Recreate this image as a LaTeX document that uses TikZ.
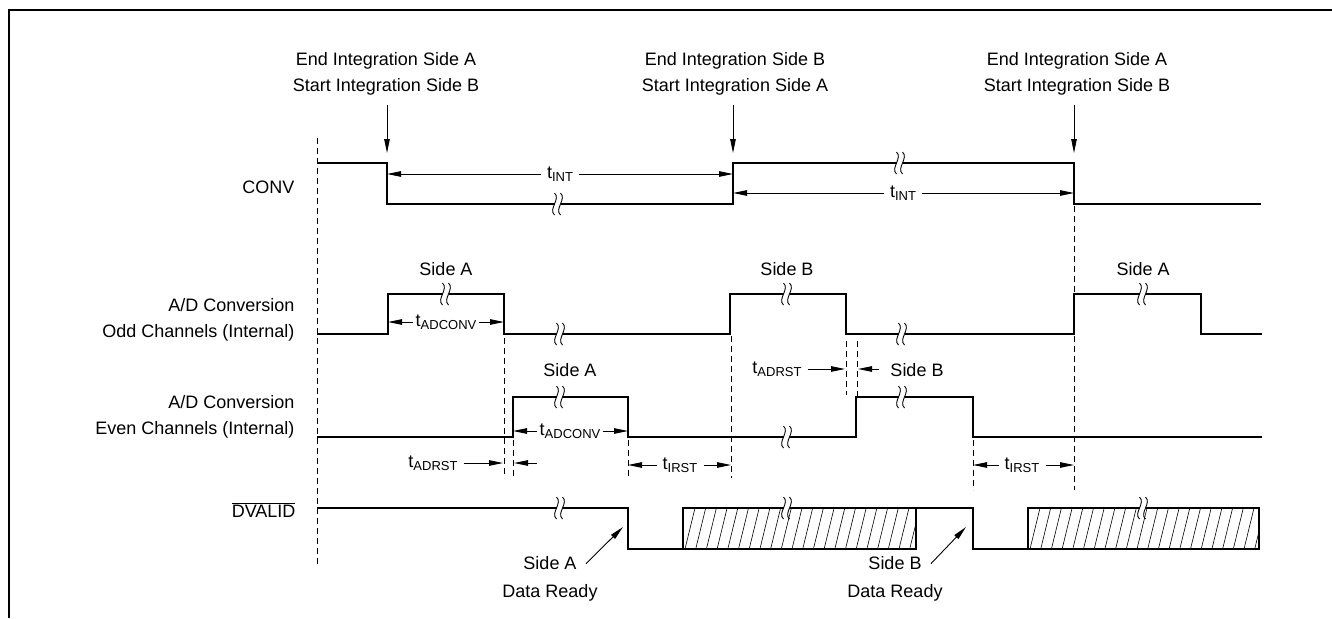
\documentclass[tikz,border=0pt]{standalone}
\usepackage{fontspec}
\setmainfont{Liberation Sans}
\usetikzlibrary{arrows.meta}
\newcommand{\tsb}[1]{t\raisebox{-0.35ex}{\fontsize{13}{13}\selectfont #1}}
\tikzset{
  sig/.style={line width=2.2pt},
  dim/.style={line width=0.9pt,-{Triangle[length=14pt,width=5.5pt]}},
  guide/.style={line width=0.8pt,dash pattern=on 6pt off 4pt},
  tlab/.style={inner ysep=0pt,inner xsep=#1},
  tlab/.default=6pt,
  brk/.pic={
    \fill[white] (-3.5,-3.5) rectangle (2.5,3.5);
    \draw[line width=0.9pt] (-3.5,-11) .. controls (3,-5) and (-10,5) .. (-3.5,11)
      (2.5,-11) .. controls (9,-5) and (-4,5) .. (2.5,11);}
}
\begin{document}
\begin{tikzpicture}[x=1pt,y=-1pt,font=\fontsize{18}{26}\selectfont]
\useasboundingbox (0,0) rectangle (1332,618);
\draw[line width=2pt] (9,618) -- (9,10) -- (1332,10);
\draw[guide] (317,138) -- (317,567);
\foreach \x/\a/\b in {504/338/478,513/440/478,628/440/478,731/336/478,846/341/395,857/341/397,973/440/490,1074/206/490}
\draw[guide] (\x,\a) -- (\x,\b);
\node[anchor=base east] (conv) at (298,193) {CONV};
\node[anchor=base east,align=right] (odd) at (298,337) {A/D Conversion\\Odd Channels (Internal)};
\node[anchor=base east,align=right] (even) at (298,434) {A/D Conversion\\Even Channels (Internal)};
\node[anchor=base east] (dval) at (299,517) {$\overline{\mbox{DVALID}}$};
\draw[sig] (317,163) -| (387,204) -| (733,163) -| (1074,204) -- (1261,204);
\draw[sig] (317,334) -| (388,294) -| (504,334) -| (730,294) -| (846,334) -| (1074,294) -| (1201,334) -- (1262,334);
\draw[sig] (317,437) -| (513,397) -| (628,437) -| (856,397) -| (973,437) -- (1262,437);
\draw[sig] (317,508) -| (628,549) -- (683,549);
\draw[sig] (916,508) -| (973,549) -- (1028,549);
\foreach \a/\b in {683/916,1028/1259}{
\begin{scope}
\clip (\a,508) rectangle (\b,549);
\foreach \i in {0,...,23}
\draw[line width=0.6pt] ({\a+2+\i*10.7},549) -- ++(10,-41);
\end{scope}
\draw[sig] (\a,508) rectangle (\b,549);}
\foreach \x/\y in {558/204,900/163,446/294,560/334,787/294,902/334,1143/294,560/397,787/437,902/397,560/508,787/508,1143/508}
\pic at (\x,\y) {brk};
\node[align=center,anchor=base] (top1) at (386,92) {End Integration Side A\\Start Integration Side B};
\node[align=center,anchor=base] (top2) at (735,92) {End Integration Side B\\Start Integration Side A};
\node[align=center,anchor=base] (top3) at (1077,92) {End Integration Side A\\Start Integration Side B};
\foreach \x in {387,733,1074}
\draw[dim] (\x,105) -- (\x,153);
\node[tlab] (ti1) at (560,174) {\tsb{INT}};
\draw[dim] (ti1) -- (387,174);
\draw[dim] (ti1) -- (733,174);
\node[tlab] (ti2) at (903,193) {\tsb{INT}};
\draw[dim] (ti2) -- (733,193);
\draw[dim] (ti2) -- (1074,193);
\node[anchor=base] (oa1) at (446,275) {Side A};
\node[anchor=base] (ob) at (787,275) {Side B};
\node[anchor=base] (oa2) at (1143,275) {Side A};
\node[anchor=base] (ea) at (570,376) {Side A};
\node[anchor=base] (eb) at (917,376) {Side B};
\node[tlab=2pt] (tc1) at (446,322) {\tsb{ADCONV}};
\draw[dim] (tc1) -- (388,322);
\draw[dim] (tc1) -- (504,322);
\node[tlab=2pt] (tc2) at (570,431) {\tsb{ADCONV}};
\draw[dim] (tc2) -- (513,431);
\draw[dim] (tc2) -- (628,431);
\node[tlab] (tr1) at (433,463) {\tsb{ADRST}};
\draw[dim] (tr1) -- (503,463);
\draw[dim] (537,463) -- (514,463);
\node[tlab] (tr2) at (777,369) {\tsb{ADRST}};
\draw[dim] (tr2) -- (845,369);
\draw[dim] (879,369) -- (858,369);
\node[tlab] (ts1) at (680,465) {\tsb{IRST}};
\draw[dim] (ts1) -- (628,465);
\draw[dim] (ts1) -- (731,465);
\node[tlab] (ts2) at (1022,465) {\tsb{IRST}};
\draw[dim] (ts2) -- (973,465);
\draw[dim] (ts2) -- (1074,465);
\node[anchor=base] (sa) at (550,569) {Side A};
\node[anchor=base] (dra) at (550,597) {Data Ready};
\node[anchor=base] (sb) at (895,569) {Side B};
\node[anchor=base] (drb) at (895,597) {Data Ready};
\draw[dim] ([xshift=6pt,yshift=-1pt]sa.east) -- (623,527);
\draw[dim] ([xshift=6pt,yshift=-1pt]sb.east) -- (966,527);
\end{tikzpicture}
\end{document}
